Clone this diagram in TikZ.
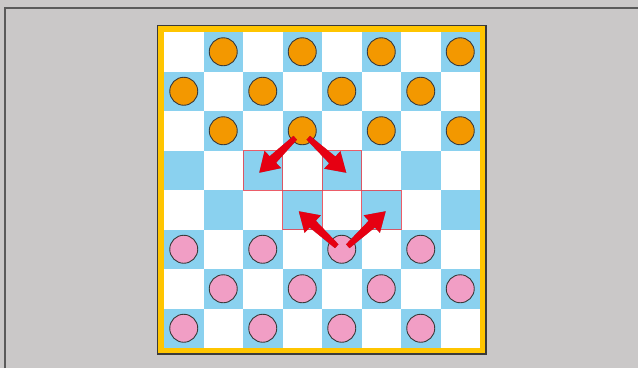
\documentclass[tikz,border=0pt]{standalone}
\usetikzlibrary{calc}
\definecolor{bggray}{HTML}{CAC8C8}
\definecolor{framegray}{HTML}{5A5A5A}
\definecolor{boardline}{HTML}{3A3A3A}
\definecolor{frameyellow}{HTML}{FFC500}
\definecolor{sqblue}{HTML}{8AD1EF}
\definecolor{pieceorange}{HTML}{F39800}
\definecolor{piecepink}{HTML}{F19EC5}
\definecolor{arrowred}{HTML}{E60012}
\definecolor{outred}{HTML}{E8414F}
\tikzset{
  piece/.style={circle, draw=boardline, line width=0.9pt, minimum size=28pt, inner sep=0pt},
  outline/.style={draw=outred, line width=1pt, opacity=0.85},
}
\newcommand\redarrowshape[3]{%
  \coordinate (nk) at ($(#2)!19pt!(#1)$);
  \fill[#3] ($(#1)!2.6pt!90:(#2)$) -- ($(nk)!4.6pt!90:(#2)$) -- ($(nk)!12pt!90:(#2)$)
    -- (#2) -- ($(nk)!12pt!-90:(#2)$) -- ($(nk)!4.6pt!-90:(#2)$) -- ($(#1)!2.6pt!-90:(#2)$) -- cycle;}
\newcommand\redarrow[2]{%
  \begin{scope}[shift={(-1.8,2)}]\redarrowshape{#1}{#2}{black, opacity=0.35}\end{scope}
  \redarrowshape{#1}{#2}{arrowred}}
\begin{document}
\begin{tikzpicture}[x=1pt,y=-1pt]
\useasboundingbox (0,0) rectangle (638,368);
\fill[bggray] (0,0) rectangle (638,368);
\draw[framegray, line width=1.5pt] (5,368) -- (5,8) -- (638,8);
\draw[boardline, line width=1.2pt, fill=frameyellow] (157.5,25.5) rectangle (486,354);
\fill[white] (164,32) rectangle (480,348);
\foreach \r in {1,...,8}{
  \foreach \c in {1,...,8}{
    \pgfmathtruncatemacro\oddsq{mod(\r+\c,2)}
    \ifnum\oddsq=1
      \fill[sqblue] ({164+39.5*(\c-1)},{32+39.5*(\r-1)}) rectangle +(39.5,39.5);
    \fi
  }
}
\foreach \r/\c in {4/3,4/5,5/4,5/6}{
  \draw[outline] ({164+39.5*(\c-1)},{32+39.5*(\r-1)}) rectangle +(39.5,39.5);
}
\foreach \r in {1,2,3}{
  \foreach \c in {1,...,8}{
    \pgfmathtruncatemacro\oddsq{mod(\r+\c,2)}
    \ifnum\oddsq=1
      \node[piece, fill=pieceorange] (o\r\c) at ({164+39.5*(\c-0.5)},{32+39.5*(\r-0.5)}) {};
    \fi
  }
}
\foreach \r in {6,7,8}{
  \foreach \c in {1,...,8}{
    \pgfmathtruncatemacro\oddsq{mod(\r+\c,2)}
    \ifnum\oddsq=1
      \node[piece, fill=piecepink] (p\r\c) at ({164+39.5*(\c-0.5)},{32+39.5*(\r-0.5)}) {};
    \fi
  }
}
\coordinate (a1s) at ($(o34)+(-7,7)$);
\coordinate (a1e) at ($(o34)+(-43,42)$);
\coordinate (a2s) at ($(o34)+(6,7)$);
\coordinate (a2e) at ($(o34)+(44,42)$);
\coordinate (a3s) at ($(p65)+(-5,-3)$);
\coordinate (a3e) at ($(p65)+(-43,-38)$);
\coordinate (a4s) at ($(p65)+(6,-3)$);
\coordinate (a4e) at ($(p65)+(44,-38)$);
\redarrow{a1s}{a1e}
\redarrow{a2s}{a2e}
\redarrow{a3s}{a3e}
\redarrow{a4s}{a4e}
\end{tikzpicture}
\end{document}
